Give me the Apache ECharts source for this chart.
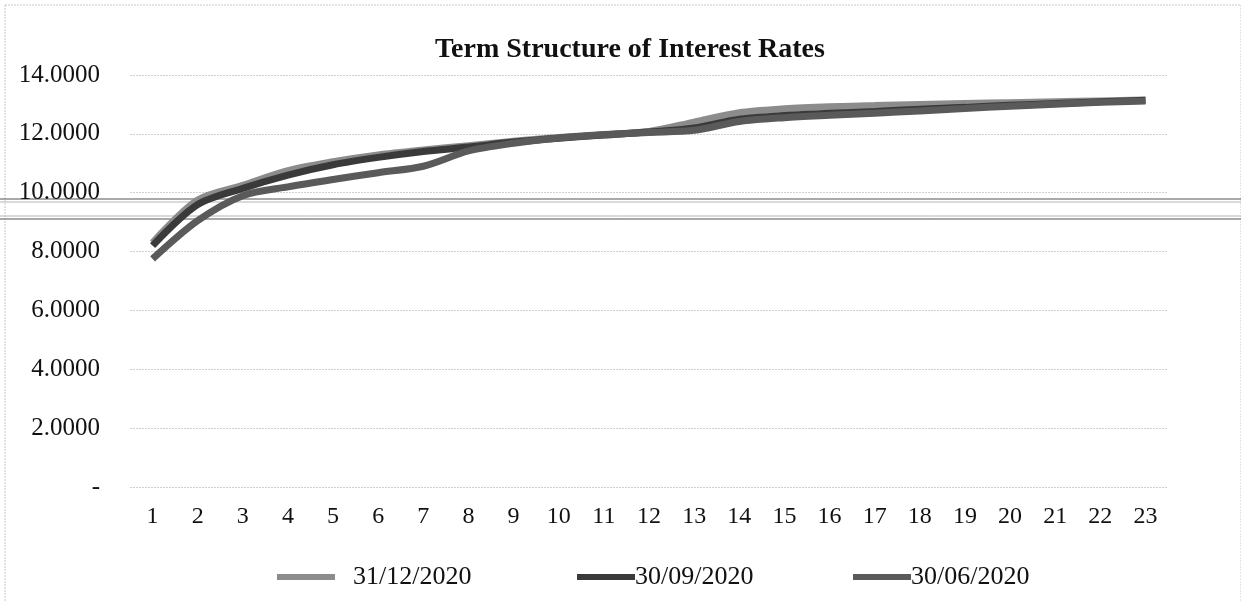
<!DOCTYPE html>
<html>
<head>
<meta charset="utf-8">
<script src="https://cdn.jsdelivr.net/npm/echarts@6/dist/echarts.min.js"></script>
<style>
  html, body { margin: 0; padding: 0; background: #fff; }
  #chart { width: 1241px; height: 602px; }
</style>
</head>
<body>
<div id="chart"></div>
<script>
// maturities (x axis)
const terms = ['1','2','3','4','5','6','7','8','9','10','11','12','13','14','15','16','17','18','19','20','21','22','23']
const seriesNames = ['31/12/2020', '30/09/2020', '30/06/2020']
const rates3112 = [8.30, 9.75, 10.25, 10.75, 11.05, 11.28, 11.45, 11.60, 11.75, 11.88, 11.98, 12.08, 12.40, 12.72, 12.85, 12.92, 12.96, 13.00, 13.03, 13.06, 13.09, 13.12, 13.15]
const rates3009 = [8.20, 9.60, 10.15, 10.60, 10.95, 11.20, 11.40, 11.55, 11.72, 11.85, 11.96, 12.06, 12.20, 12.50, 12.62, 12.70, 12.76, 12.84, 12.90, 12.97, 13.03, 13.09, 13.14]
const rates3006 = [7.75, 9.05, 9.90, 10.20, 10.45, 10.68, 10.90, 11.42, 11.68, 11.86, 11.97, 12.05, 12.12, 12.42, 12.55, 12.63, 12.70, 12.78, 12.86, 12.94, 13.01, 13.07, 13.12]

const colors = ['#8c8c8c', '#3a3a3a', '#5a5a5a']
const font = '"Liberation Serif", "Times New Roman", serif'

function makeLine(name, data, color) {
  return {
    name: name,
    type: 'line',
    data: data,
    smooth: 0.3,
    symbol: 'none',
    lineStyle: { width: 7, color: color, cap: 'butt' },
    itemStyle: { color: color }
  }
}

function makeLegend(name, left, gap) {
  return {
    data: [name],
    left: left,
    top: 559,
    icon: 'rect',
    itemWidth: 58,
    itemHeight: 6,
    itemGap: 0,
    textStyle: { fontFamily: font, fontSize: 26, color: '#111', padding: [0, 0, 0, gap] }
  }
}

let myChart = echarts.init(document.getElementById('chart'))
myChart.setOption({
  animation: false,
  color: colors,
  title: {
    text: 'Term Structure of Interest Rates',
    left: 430,
    top: 31,
    textStyle: { fontFamily: font, fontSize: 28, fontWeight: 'bold', color: '#111' }
  },
  legend: [
    makeLegend(seriesNames[0], 272, 13),
    makeLegend(seriesNames[1], 572, -5),
    makeLegend(seriesNames[2], 848, -5)
  ],
  grid: { left: 130, right: 73, top: 75, bottom: 115 },
  xAxis: {
    type: 'category',
    data: terms,
    boundaryGap: true,
    axisLine: { show: false },
    axisTick: { show: false },
    axisLabel: { fontFamily: font, fontSize: 24, color: '#111', margin: 18 }
  },
  yAxis: {
    type: 'value',
    min: 0,
    max: 14,
    interval: 2,
    axisLabel: {
      fontFamily: font, fontSize: 25, color: '#111', margin: 30,
      formatter: v => v === 0 ? '-' : v.toFixed(4)
    },
    splitLine: { lineStyle: { color: '#cfcfcf', width: 1, type: [2, 1] } }
  },
  graphic: [
    // dotted frame of the chart area
    { type: 'rect', shape: { x: 5, y: 5, width: 1236, height: 610 }, style: { fill: 'none', stroke: '#c8c8c8', lineWidth: 1, lineDash: [2, 1] }, silent: true },
    // scan lines across the page
    { type: 'line', shape: { x1: 0, y1: 199, x2: 1241, y2: 199 }, style: { stroke: '#555', lineWidth: 1.2 }, silent: true },
    { type: 'line', shape: { x1: 0, y1: 202, x2: 1241, y2: 202 }, style: { stroke: '#b5b5b5', lineWidth: 1 }, silent: true },
    { type: 'line', shape: { x1: 0, y1: 216, x2: 1241, y2: 216 }, style: { stroke: '#b5b5b5', lineWidth: 1 }, silent: true },
    { type: 'line', shape: { x1: 0, y1: 219, x2: 1241, y2: 219 }, style: { stroke: '#555', lineWidth: 1.2 }, silent: true }
  ],
  series: [
    makeLine(seriesNames[0], rates3112, colors[0]),
    makeLine(seriesNames[1], rates3009, colors[1]),
    makeLine(seriesNames[2], rates3006, colors[2])
  ]
})
</script>
</body>
</html>
